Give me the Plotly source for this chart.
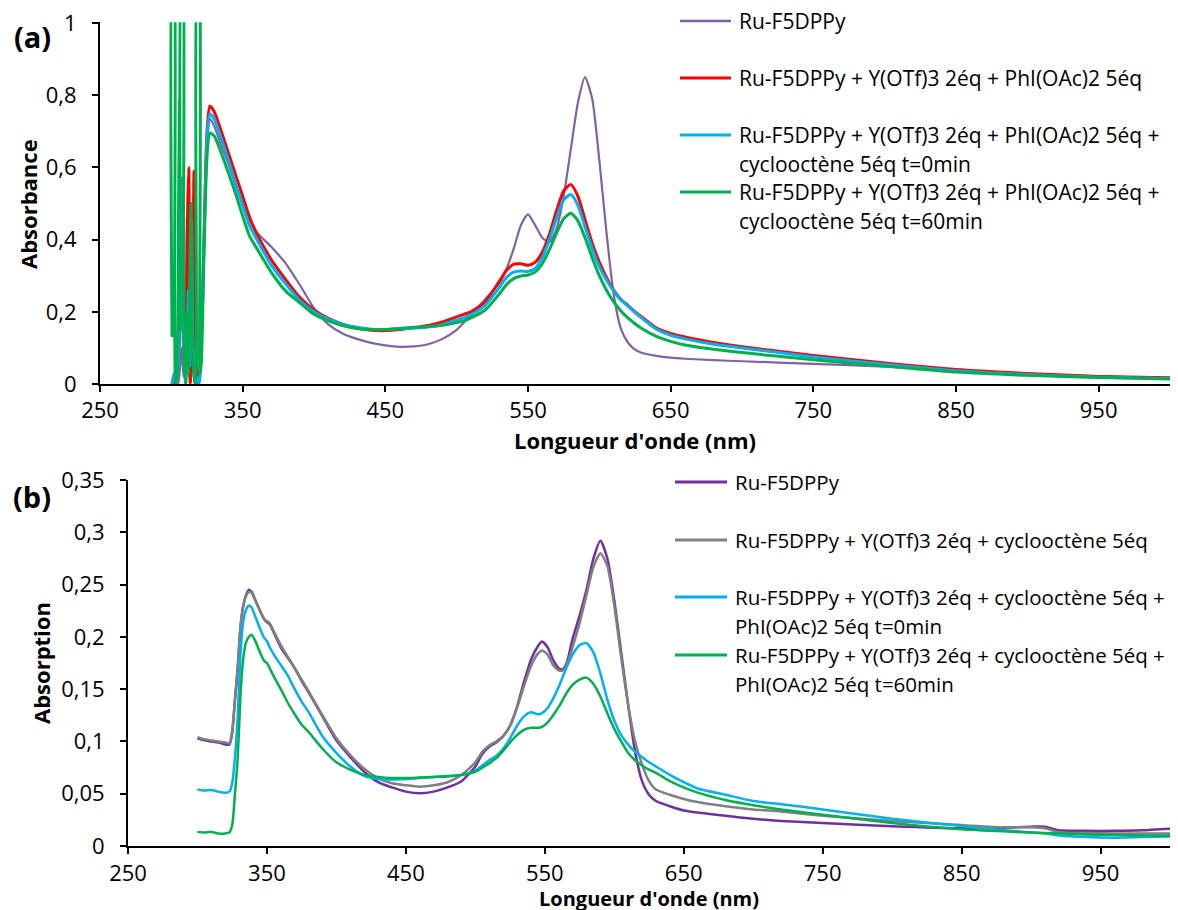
import plotly.graph_objects as go

# ---------- panel (a) data ----------
a_wl = [321, 323, 325, 327, 330, 335, 340, 345, 350, 355, 360, 370, 380, 390, 400, 410, 420, 430, 440, 450,
        460, 470, 480, 490, 500, 505, 510, 520, 530, 535, 540, 545, 550, 555, 560, 565, 570, 575, 580, 585,
        590, 595, 600, 605, 610, 615, 620, 625, 630, 640, 650, 660, 680, 700, 750, 800, 850, 900, 950, 1000]
a_purple = [0.10, 0.40, 0.66, 0.735, 0.715, 0.66, 0.61, 0.55, 0.50, 0.455, 0.42, 0.38, 0.335, 0.275, 0.21, 0.165, 0.14, 0.125, 0.114, 0.107,
            0.103, 0.104, 0.11, 0.125, 0.15, 0.17, 0.19, 0.235, 0.28, 0.32, 0.375, 0.44, 0.47, 0.44, 0.405, 0.393, 0.43, 0.52, 0.65, 0.78,
            0.85, 0.79, 0.62, 0.42, 0.25, 0.155, 0.115, 0.095, 0.086, 0.078, 0.073, 0.07, 0.066, 0.063, 0.056, 0.048, 0.038, 0.028, 0.021, 0.016]
a_red = [0.10, 0.42, 0.70, 0.77, 0.755, 0.70, 0.64, 0.58, 0.52, 0.46, 0.415, 0.345, 0.29, 0.24, 0.205, 0.182, 0.166, 0.155, 0.149, 0.148,
         0.151, 0.156, 0.162, 0.172, 0.186, 0.193, 0.2, 0.228, 0.285, 0.315, 0.332, 0.333, 0.329, 0.337, 0.365, 0.415, 0.48, 0.535, 0.553, 0.52,
         0.455, 0.39, 0.338, 0.295, 0.26, 0.235, 0.218, 0.2, 0.185, 0.155, 0.14, 0.13, 0.115, 0.103, 0.079, 0.058, 0.04, 0.029, 0.021, 0.017]
a_blue = [0.10, 0.41, 0.68, 0.748, 0.735, 0.68, 0.62, 0.555, 0.495, 0.437, 0.40, 0.33, 0.278, 0.232, 0.2, 0.18, 0.166, 0.157, 0.152, 0.151,
          0.153, 0.155, 0.158, 0.165, 0.177, 0.183, 0.192, 0.218, 0.268, 0.296, 0.31, 0.313, 0.312, 0.32, 0.35, 0.40, 0.46, 0.51, 0.525, 0.495,
          0.435, 0.375, 0.325, 0.288, 0.258, 0.233, 0.216, 0.198, 0.182, 0.152, 0.135, 0.125, 0.11, 0.1, 0.075, 0.055, 0.037, 0.026, 0.019, 0.015]
a_green = [0.06, 0.38, 0.63, 0.695, 0.688, 0.64, 0.585, 0.528, 0.465, 0.408, 0.375, 0.31, 0.258, 0.225, 0.193, 0.175, 0.162, 0.154, 0.151, 0.151,
           0.154, 0.157, 0.159, 0.163, 0.17, 0.175, 0.183, 0.205, 0.25, 0.276, 0.292, 0.299, 0.302, 0.31, 0.333, 0.372, 0.418, 0.458, 0.473, 0.452,
           0.405, 0.35, 0.3, 0.26, 0.228, 0.203, 0.183, 0.167, 0.153, 0.132, 0.118, 0.108, 0.096, 0.087, 0.067, 0.05, 0.033, 0.024, 0.018, 0.014]

# noisy detector region below ~320 nm
a_spike_wl_purple = [300.5, 303, 305, 307, 308.5, 310, 310.8, 311.5, 313, 315, 317, 319, 320.5]
a_spike_purple = [0.0, 0.02, 0.0, 0.1, 0.02, 0.2, 0.46, 0.1, 0.0, 0.05, 0.0, 0.02, 0.04]
a_spike_wl_red = [300.5, 301.5, 303, 305, 306.5, 307.2, 308.5, 310, 311.5, 312.2, 313.5, 315.0, 315.9, 317, 318.5, 320]
a_spike_red = [0.0, 0.02, 0.0, 0.05, 0.3, 0.42, 0.1, 0.02, 0.5, 0.6, 0.0, 0.3, 0.59, 0.1, 0.0, 0.04]
a_spike_wl_blue = [300.5, 302, 303.5, 305, 306.5, 307.2, 308, 309.5, 311, 312, 313, 314.2, 315.2, 316.5, 318, 319.5, 320.5]
a_spike_blue = [0.0, 0.03, 0.0, 0.05, 0.35, 0.57, 0.2, 0.0, 0.1, 0.26, 0.05, 0.45, 0.1, 0.0, 0.02, 0.0, 0.04]
a_spike_wl_green = [300.5, 301.0, 301.6, 302.3, 303.0, 304.0, 305.0, 305.8, 306.4, 307.2, 307.8, 308.5, 309.3, 310.2, 311.0, 312.0,
                    313.0, 313.8, 314.6, 315.5, 316.5, 317.5, 318.4, 319.2, 320.0]
a_spike_green = [0.13, 1.2, 1.2, 0.25, 0.0, 0.02, 0.45, 0.79, 0.15, 1.2, 1.2, 0.3, 0.05, 0.0, 0.2, 0.03,
                 0.3, 0.5, 0.15, 0.04, 0.0, 0.05, 1.2, 1.2, 0.03]

a_names = ["Ru-F5DPPy",
           "Ru-F5DPPy + Y(OTf)3 2éq + PhI(OAc)2 5éq",
           "Ru-F5DPPy + Y(OTf)3 2éq + PhI(OAc)2 5éq +<br>cyclooctène 5éq t=0min",
           "Ru-F5DPPy + Y(OTf)3 2éq + PhI(OAc)2 5éq +<br>cyclooctène 5éq t=60min"]
a_colors = ["#8064A2", "#FF0000", "#00B0F0", "#00B050"]
a_ticks = [0, 0.2, 0.4, 0.6, 0.8, 1]
a_ticklabels = ["0", "0,2", "0,4", "0,6", "0,8", "1"]

# ---------- panel (b) data ----------
b_wl = [300, 305, 310, 315, 320, 323, 325, 327, 329, 331, 333, 335, 337, 339, 342, 345, 348, 350, 352, 355,
        360, 365, 370, 375, 380, 390, 400, 410, 420, 430, 440, 450, 460, 470, 480, 490, 500, 505, 510, 515,
        520, 525, 530, 535, 540, 545, 548, 552, 556, 560, 563, 566, 570, 575, 580, 585, 590, 595, 600, 605,
        610, 615, 620, 625, 630, 640, 650, 660, 680, 700, 720, 750, 800, 850, 880, 900, 910, 920, 940, 960, 980, 1000]
b_purple = [0.103, 0.101, 0.1, 0.099, 0.097, 0.097, 0.108, 0.14, 0.17, 0.21, 0.23, 0.24, 0.245, 0.243, 0.234, 0.225, 0.217, 0.214, 0.212, 0.204,
            0.19, 0.18, 0.17, 0.158, 0.147, 0.124, 0.101, 0.085, 0.071, 0.061, 0.056, 0.052, 0.0505, 0.052, 0.056, 0.062, 0.076, 0.088, 0.095, 0.099,
            0.105, 0.115, 0.133, 0.157, 0.178, 0.191, 0.1955, 0.19, 0.178, 0.17, 0.169, 0.176, 0.198, 0.22, 0.245, 0.275, 0.292, 0.275, 0.235, 0.185,
            0.135, 0.09, 0.062, 0.049, 0.043, 0.038, 0.034, 0.032, 0.029, 0.026, 0.024, 0.022, 0.019, 0.017, 0.0175, 0.0185, 0.0185, 0.015, 0.0145, 0.0145, 0.015, 0.0165]
b_gray = [0.104, 0.102, 0.101, 0.1, 0.099, 0.098, 0.11, 0.14, 0.172, 0.21, 0.23, 0.239, 0.243, 0.242, 0.234, 0.225, 0.217, 0.215, 0.213, 0.205,
          0.192, 0.181, 0.17, 0.159, 0.148, 0.125, 0.103, 0.087, 0.074, 0.065, 0.06, 0.058, 0.0567, 0.058, 0.061, 0.068, 0.08, 0.09, 0.096, 0.1,
          0.105, 0.115, 0.132, 0.153, 0.172, 0.184, 0.187, 0.183, 0.173, 0.168, 0.168, 0.174, 0.19, 0.213, 0.24, 0.267, 0.28, 0.268, 0.23, 0.18,
          0.135, 0.1, 0.078, 0.062, 0.054, 0.049, 0.045, 0.042, 0.038, 0.035, 0.033, 0.029, 0.024, 0.02, 0.018, 0.018, 0.017, 0.013, 0.0125, 0.012, 0.012, 0.012]
b_blue = [0.054, 0.053, 0.0535, 0.052, 0.051, 0.052, 0.06, 0.085, 0.125, 0.185, 0.215, 0.226, 0.23, 0.228, 0.218, 0.208, 0.199, 0.196, 0.19, 0.183,
          0.173, 0.163, 0.15, 0.138, 0.128, 0.105, 0.089, 0.076, 0.067, 0.064, 0.0635, 0.064, 0.065, 0.066, 0.067, 0.068, 0.072, 0.077, 0.082, 0.086,
          0.093, 0.103, 0.115, 0.124, 0.128, 0.126, 0.127, 0.132, 0.141, 0.152, 0.162, 0.172, 0.183, 0.192, 0.194, 0.185, 0.165, 0.14, 0.12, 0.106,
          0.097, 0.09, 0.085, 0.08, 0.076, 0.068, 0.061, 0.055, 0.049, 0.043, 0.04, 0.035, 0.026, 0.019, 0.015, 0.013, 0.012, 0.01, 0.0085, 0.008, 0.0085, 0.009]
b_green = [0.0135, 0.013, 0.0135, 0.012, 0.012, 0.013, 0.02, 0.05, 0.085, 0.145, 0.18, 0.195, 0.2, 0.202, 0.195, 0.185, 0.177, 0.175, 0.17, 0.162,
           0.15, 0.137, 0.126, 0.116, 0.109, 0.093, 0.08, 0.073, 0.068, 0.066, 0.065, 0.065, 0.0655, 0.066, 0.0665, 0.068, 0.071, 0.075, 0.079, 0.084,
           0.091, 0.099, 0.106, 0.111, 0.113, 0.113, 0.114, 0.118, 0.125, 0.133, 0.14, 0.147, 0.154, 0.159, 0.161, 0.155, 0.143, 0.127, 0.112, 0.1,
           0.089, 0.082, 0.077, 0.073, 0.07, 0.062, 0.056, 0.051, 0.044, 0.039, 0.035, 0.03, 0.022, 0.016, 0.014, 0.013, 0.0125, 0.012, 0.011, 0.0105, 0.01, 0.0099]

b_names = ["Ru-F5DPPy",
           "Ru-F5DPPy + Y(OTf)3 2éq + cyclooctène 5éq",
           "Ru-F5DPPy + Y(OTf)3 2éq + cyclooctène 5éq +<br>PhI(OAc)2 5éq t=0min",
           "Ru-F5DPPy + Y(OTf)3 2éq + cyclooctène 5éq +<br>PhI(OAc)2 5éq t=60min"]
b_colors = ["#7030A0", "#808080", "#00B0F0", "#00B050"]
b_ticks = [0, 0.05, 0.1, 0.15, 0.2, 0.25, 0.3, 0.35]
b_ticklabels = ["0", "0,05", "0,1", "0,15", "0,2", "0,25", "0,3", "0,35"]

x_ticks = [250, 350, 450, 550, 650, 750, 850, 950]

W, H = 1178, 910
OFF = 8  # page body margin, screen px
FONT = "Open Sans"


def px(x):
    return (x - OFF) / W


def py(y):
    return 1 - (y - OFF) / H


fig = go.Figure()

a_series = [
    (a_spike_wl_purple, a_spike_purple, a_purple),
    (a_spike_wl_red, a_spike_red, a_red),
    (a_spike_wl_blue, a_spike_blue, a_blue),
    (a_spike_wl_green, a_spike_green, a_green),
]
a_widths = [2.2, 3, 3, 3]
for (sw, sv, vals), name, col, lw in zip(a_series, a_names, a_colors, a_widths):
    fig.add_trace(go.Scatter(x=sw + a_wl, y=sv + vals, mode="lines", name=name.replace("<br>", " "),
                             line=dict(color=col, width=lw, shape="spline", smoothing=0.6),
                             showlegend=False, xaxis="x", yaxis="y"))

for vals, name, col in zip([b_purple, b_gray, b_blue, b_green], b_names, b_colors):
    fig.add_trace(go.Scatter(x=b_wl, y=vals, mode="lines", name=name.replace("<br>", " "),
                             line=dict(color=col, width=2.5, shape="spline", smoothing=0.6),
                             showlegend=False, xaxis="x2", yaxis="y2"))

axis_common = dict(showline=True, linecolor="black", linewidth=2, ticks="outside", ticklen=6,
                   tickwidth=2, tickcolor="black", showgrid=False, zeroline=False, automargin=False,
                   ticklabeloverflow="allow",
                   tickfont=dict(family=FONT, size=22, color="black"))
y_extra = dict(ticklabelstandoff=11)

fig.update_layout(
    width=W, height=H,
    margin=dict(l=0, r=0, t=0, b=0, autoexpand=False),
    paper_bgcolor="white", plot_bgcolor="white",
    font=dict(family=FONT, color="black"),
    xaxis=dict(domain=[px(100), px(1170)], range=[250, 1000], tickvals=x_ticks, anchor="y", **axis_common),
    yaxis=dict(domain=[py(384), py(22.3)], range=[0, 1.002], tickvals=a_ticks, ticktext=a_ticklabels,
               anchor="x", **axis_common, **y_extra),
    xaxis2=dict(domain=[px(128), px(1170)], range=[250, 1000], tickvals=x_ticks, anchor="y2",
                ticklabelstandoff=1, **axis_common),
    yaxis2=dict(domain=[py(846), py(480)], range=[0, 0.35], tickvals=b_ticks, ticktext=b_ticklabels,
                anchor="x2", **axis_common, **y_extra),
)

# legends drawn by hand
def add_legend(names, colors, x0, x1, xt, line_ys, widths, size):
    for name, col, yl, lw in zip(names, colors, line_ys, widths):
        fig.add_shape(type="line", xref="paper", yref="paper", x0=px(x0), x1=px(x1), y0=py(yl), y1=py(yl),
                      line=dict(color=col, width=lw))
        for k, part in enumerate(name.split("<br>")):
            fig.add_annotation(xref="paper", yref="paper", x=px(xt), y=py(yl + 28.5 * k), text=part,
                               showarrow=False, xanchor="left", yanchor="middle",
                               font=dict(family=FONT, size=size, color="black"))


add_legend(a_names, a_colors, 680, 731, 737, [21, 78, 135, 192], [2.5, 3, 3, 3], 21)
add_legend(b_names, b_colors, 675, 727, 733, [482, 540, 597, 655], [3, 3, 3, 3], 20.5)

title_font = dict(family=FONT, size=22, color="black")
fig.add_annotation(xref="paper", yref="paper", x=px(635), y=py(440), text="<b>Longueur d'onde (nm)</b>",
                   showarrow=False, xanchor="center", yanchor="middle", font=title_font)
fig.add_annotation(xref="paper", yref="paper", x=px(649), y=py(898), text="<b>Longueur d'onde (nm)</b>",
                   showarrow=False, xanchor="center", yanchor="middle", font=dict(family=FONT, size=20, color="black"))
fig.add_annotation(xref="paper", yref="paper", x=px(28), y=py(204), text="<b>Absorbance</b>", textangle=-90,
                   showarrow=False, xanchor="center", yanchor="middle", font=title_font)
fig.add_annotation(xref="paper", yref="paper", x=px(41), y=py(663), text="<b>Absorption</b>", textangle=-90,
                   showarrow=False, xanchor="center", yanchor="middle", font=title_font)
fig.add_annotation(xref="paper", yref="paper", x=px(32), y=py(37), text="<b>(a)</b>",
                   showarrow=False, xanchor="center", yanchor="middle", font=dict(family=FONT, size=29, color="black"))
fig.add_annotation(xref="paper", yref="paper", x=px(32), y=py(496), text="<b>(b)</b>",
                   showarrow=False, xanchor="center", yanchor="middle", font=dict(family=FONT, size=29, color="black"))

fig.write_html("out.html")
